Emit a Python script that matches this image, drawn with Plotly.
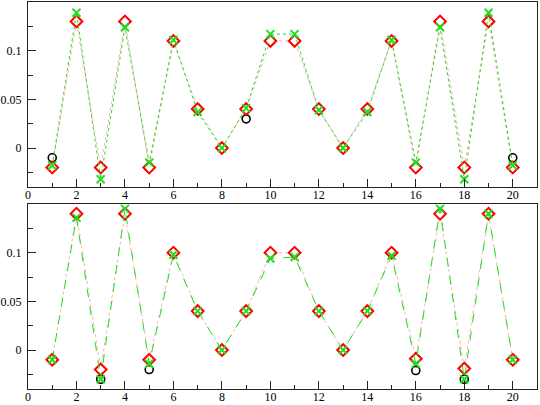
import plotly.graph_objects as go

x = list(range(1, 21))

# Top panel
top_black = [-0.01, 0.13, -0.02, 0.13, -0.02, 0.11, 0.04, 0.0, 0.03, 0.11,
             0.11, 0.04, 0.0, 0.04, 0.11, -0.02, 0.13, -0.02, 0.13, -0.01]
top_red = [-0.02, 0.13, -0.02, 0.13, -0.02, 0.11, 0.04, 0.0, 0.04, 0.11,
           0.11, 0.04, 0.0, 0.04, 0.11, -0.02, 0.13, -0.02, 0.13, -0.02]
top_green = [-0.018, 0.139, -0.032, 0.124, -0.015, 0.111, 0.037, 0.0, 0.041, 0.117,
             0.117, 0.039, 0.0, 0.037, 0.111, -0.015, 0.124, -0.032, 0.139, -0.018]

# Bottom panel
bot_black = [-0.01, 0.14, -0.03, 0.14, -0.02, 0.10, 0.04, 0.0, 0.04, 0.10,
             0.10, 0.04, 0.0, 0.04, 0.10, -0.021, 0.14, -0.03, 0.14, -0.01]
bot_red = [-0.01, 0.14, -0.02, 0.14, -0.01, 0.10, 0.04, 0.0, 0.04, 0.10,
           0.10, 0.04, 0.0, 0.04, 0.10, -0.009, 0.14, -0.019, 0.14, -0.01]
bot_green = [-0.01, 0.136, -0.03, 0.145, -0.014, 0.098, 0.04, 0.0, 0.04, 0.094,
             0.0955, 0.04, 0.0, 0.04, 0.097, -0.014, 0.145, -0.03, 0.14, -0.01]

xtick_vals = [0, 2, 4, 6, 8, 10, 12, 14, 16, 18, 20]
xtick_text = ["0", "2", "4", "6", "8", "10", "12", "14", "16", "18", "20"]
ytick_vals = [0, 0.05, 0.1]
ytick_text = ["0", "0.05", "0.1"]

FONT = "Times New Roman"

fig = go.Figure()


def add_panel(xa, ya, black, red, green, gdash):
    fig.add_trace(go.Scatter(
        x=x, y=black, mode="markers", xaxis=xa, yaxis=ya,
        marker=dict(symbol="circle-open", size=8, color="black",
                    line=dict(width=1.6, color="black")),
        showlegend=False, hoverinfo="skip"))
    fig.add_trace(go.Scatter(
        x=x, y=red, mode="lines+markers", xaxis=xa, yaxis=ya,
        line=dict(color="rgba(255,120,120,0.6)", width=1, dash="dot"),
        marker=dict(symbol="diamond", size=9, color="white",
                    line=dict(width=2, color="#ff0000")),
        showlegend=False, hoverinfo="skip"))
    fig.add_trace(go.Scatter(
        x=x, y=green, mode="lines+markers", xaxis=xa, yaxis=ya,
        line=dict(color="#22dd22", width=1, dash=gdash),
        marker=dict(symbol="x-thin-open", size=8,
                    line=dict(width=2, color="#00ee00")),
        showlegend=False, hoverinfo="skip"))


add_panel("x", "y", top_black, top_red, top_green, "dot")
add_panel("x2", "y2", bot_black, bot_red, bot_green, "dash")

axis_common = dict(showline=True, linecolor="#222", linewidth=1, mirror=True,
                   showgrid=False, zeroline=False, ticks="inside",
                   tickcolor="#222", tickwidth=1, ticklen=8, automargin=False,
                   tickfont=dict(family=FONT, size=12, color="black"))

xaxis_cfg = dict(axis_common, range=[0, 21], tickvals=xtick_vals, ticktext=xtick_text,
                 ticklabelstandoff=-3,
                 minor=dict(dtick=1, tick0=0, ticks="inside", ticklen=4,
                            tickcolor="#222", tickwidth=1, showgrid=False))
yaxis_cfg = dict(axis_common, range=[-0.04, 0.15], tickvals=ytick_vals, ticktext=ytick_text,
                 minor=dict(tickvals=[-0.025, 0.025, 0.075, 0.125], ticks="inside",
                            ticklen=5, tickcolor="#222", tickwidth=1, showgrid=False),
                 ticklabelstandoff=3)

fig.update_layout(
    width=540, height=405,
    margin=dict(l=28, r=3, t=2, b=16),
    paper_bgcolor="white", plot_bgcolor="white",
    font=dict(family=FONT),
    hovermode=False,
    xaxis=dict(xaxis_cfg, anchor="y", domain=[0, 1]),
    yaxis=dict(yaxis_cfg, anchor="x", domain=[0.522, 1]),
    xaxis2=dict(xaxis_cfg, anchor="y2", domain=[0, 1]),
    yaxis2=dict(yaxis_cfg, anchor="x2", domain=[0, 0.478]),
)

fig.write_html("out.html", config={"displayModeBar": False},
               post_script="document.body.style.margin='0';")
